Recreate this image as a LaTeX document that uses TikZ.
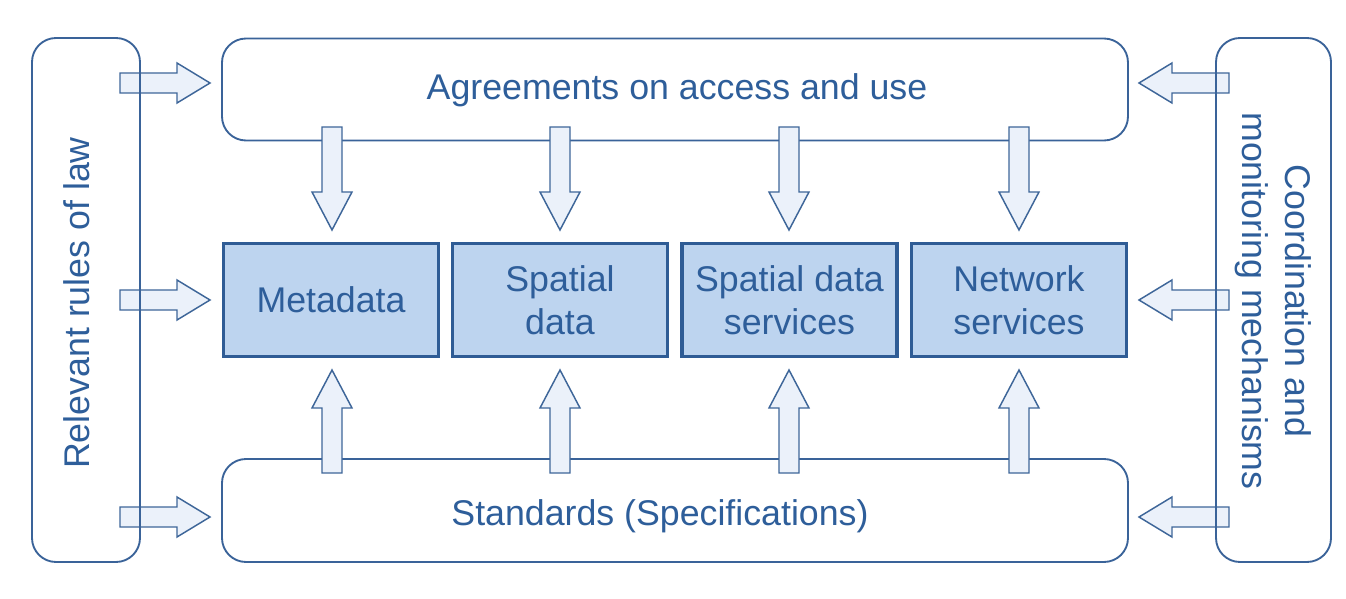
\documentclass[tikz,border=0pt]{standalone}
\usepackage{fontspec}
\setmainfont{Liberation Sans}
\usetikzlibrary{calc}
\definecolor{txtblue}{HTML}{2E5E9A}
\definecolor{boxline}{HTML}{2F5C95}
\definecolor{boxfill}{HTML}{BDD4EF}
\definecolor{arrline}{HTML}{3E6699}
\definecolor{arrfill}{HTML}{EBF1FA}
\definecolor{rline}{HTML}{3A6399}
\tikzset{
  rbox/.style={draw=rline, line width=1.4pt, rounded corners=18pt, inner sep=0pt},
  bluebox/.style={draw=boxline, fill=boxfill, line width=2.6pt, inner sep=0pt,
    minimum width=161.25pt, minimum height=84.75pt, align=center,
    text=txtblue, font=\fontsize{26.8}{32}\selectfont},
  lbl/.style={text=txtblue, font=\fontsize{26.8}{32}\selectfont, inner sep=0pt},
  blockarr/.style={draw=arrline, fill=arrfill, line width=1.1pt, line join=miter}
}
\newcommand{\blockarrow}[3][24.75pt]{%
  \coordinate (hb) at ($(#3)!#1!(#2)$);
  \draw[blockarr] ($(#2)!7.5pt!90:(#3)$) -- ($(hb)!7.5pt!90:(#3)$)
    -- ($(hb)!15pt!90:(#3)$) -- (#3) -- ($(hb)!15pt!-90:(#3)$)
    -- ($(hb)!7.5pt!-90:(#3)$) -- ($(#2)!7.5pt!-90:(#3)$) -- cycle;
}
\begin{document}
\begin{tikzpicture}[x=0.75pt, y=-0.75pt]
\useasboundingbox (0,0) rectangle (1346,599);
% top and bottom boxes
\node[rbox, fill=white, minimum width=679.5pt, minimum height=76.5pt] (agree) at (675,89.5) {};
\node[rbox, fill=white, minimum width=679.5pt, minimum height=77.25pt] (std) at (675,510.5) {};
\node[lbl, anchor=base] (agreetxt) at (677,100) {Agreements on access and use};
\node[lbl, anchor=base] (stdtxt) at (660,525) {Standards (Specifications)};
% blue boxes
\node[bluebox] (meta) at (331,300) {Metadata};
\node[bluebox] (sdata) at (560,300) {Spatial\\data};
\node[bluebox] (sds) at (789.5,300) {Spatial data\\services};
\node[bluebox] (net) at (1019,300) {Network\\services};
% arrow coordinates
\foreach \n/\x in {meta/332, sdata/560, sds/789, net/1019}{
  \coordinate (\n-dt) at (\x,127);
  \coordinate (\n-dh) at (\x,230);
  \coordinate (\n-ut) at (\x,473);
  \coordinate (\n-uh) at (\x,370);
}
\foreach \n/\y in {a/83, b/300, c/517}{
  \coordinate (L\n-t) at (120,\y);
  \coordinate (L\n-h) at (210,\y);
  \coordinate (R\n-t) at (1229,\y);
  \coordinate (R\n-h) at (1139,\y);
}
\foreach \n in {meta, sdata, sds, net}{
  \blockarrow[28.5pt]{\n-dt}{\n-dh}
  \blockarrow[28.5pt]{\n-ut}{\n-uh}
}
\foreach \n in {a, b, c}{
  \blockarrow{L\n-t}{L\n-h}
  \blockarrow{R\n-t}{R\n-h}
}
% side boxes
\node[rbox, minimum width=81pt, minimum height=393pt] (law) at (86,300) {};
\node[rbox, minimum width=86.25pt, minimum height=393pt] (coord) at (1273.5,300) {};
\node[lbl, rotate=90] (lawtxt) at (77,303) {Relevant rules of law};
\node[lbl, rotate=-90, align=center] (coordtxt) at (1273,301) {Coordination and\\monitoring mechanisms};
\end{tikzpicture}
\end{document}
